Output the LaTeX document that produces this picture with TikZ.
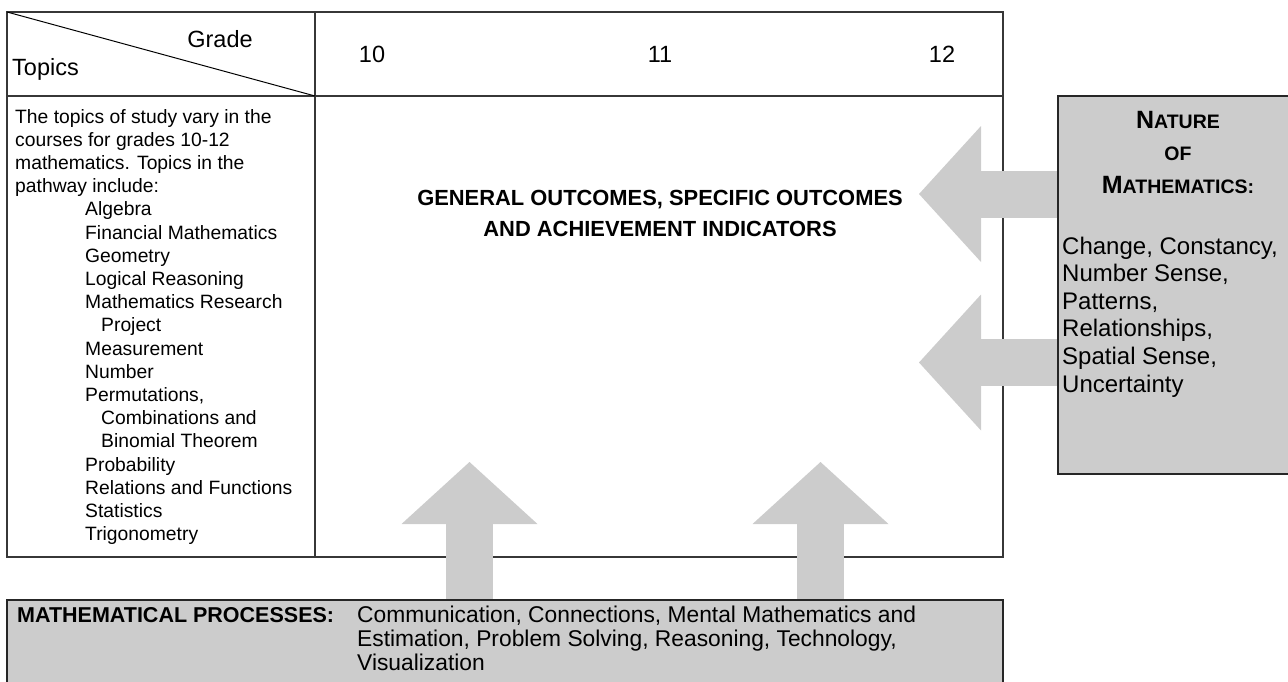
\documentclass[tikz,border=0pt]{standalone}
\usepackage{fontspec}
\setmainfont{Liberation Sans}
\usepackage{tikz}
\usepackage{xcolor}
\usetikzlibrary{arrows.meta}

\definecolor{boxgray}{RGB}{204,204,204}
\definecolor{rulegray}{RGB}{55,55,55}
\newcommand{\capsc}[2]{{\fontsize{25}{30}\selectfont #1}{\fontsize{19.5}{24}\selectfont #2}}

\tikzset{
  grid/.style={rulegray, line width=1.5pt},
  tablebox/.style={draw=rulegray, line width=1.5pt, inner sep=0pt, outer sep=0pt},
  graybox/.style={draw=black!85, fill=boxgray, line width=1.5pt, inner sep=0pt, outer sep=0pt},
  blockarrow/.style={boxgray, line width=47pt, shorten <=1pt,
    -{Triangle[length=62pt, width=136pt, line width=0pt]}},
  headtext/.style={inner sep=0pt, font=\fontsize{23.5}{28}\selectfont},
  lefttext/.style={anchor=base west, inner sep=0pt, font=\fontsize{19.3}{23.2}\selectfont},
  righttext/.style={anchor=base west, inner sep=0pt, font=\fontsize{24}{27.6}\selectfont},
  boldtext/.style={anchor=base, inner sep=0pt, font=\bfseries\fontsize{21.9}{30}\selectfont},
  proctext/.style={anchor=base west, inner sep=0pt, font=\fontsize{22.8}{24}\selectfont}
}

\begin{document}
\begin{tikzpicture}[x=1pt, y=-1pt]
  \clip (0,0) rectangle (1288,681);

  % table
  \node[tablebox, anchor=north west, minimum width=996pt, minimum height=545pt] (tbl) at (7,12) {};
  \coordinate (hdr) at (315,96);
  \draw[grid] (tbl.west |- hdr) -- (tbl.east |- hdr);
  \draw[grid] (tbl.north -| hdr) -- (tbl.south -| hdr);
  \draw[line width=1pt] (tbl.north west) -- (hdr);

  % boxes
  \node[graybox, anchor=north west, minimum width=260pt, minimum height=378pt] (nature) at (1058,96) {};
  \node[graybox, anchor=north west, minimum width=996pt, minimum height=100pt] (procs) at (7,600) {};

  % arrows into the table
  \coordinate (leftA) at (919,194);
  \coordinate (leftB) at (919,362.5);
  \coordinate (upA) at (469.5,462);
  \coordinate (upB) at (820.5,462);
  \draw[blockarrow] (nature.west |- leftA) -- (leftA);
  \draw[blockarrow] (nature.west |- leftB) -- (leftB);
  \draw[blockarrow] (procs.north -| upA) -- (upA);
  \draw[blockarrow] (procs.north -| upB) -- (upB);

  % header
  \node[headtext, anchor=base] (grade) at (220,47) {Grade};
  \node[headtext, anchor=base west] (topics) at (12,75) {Topics};
  \foreach \g/\x in {10/372, 11/660, 12/942}
    \node[headtext, anchor=base] (g\g) at (\x,62) {\g};

  % topics column
  \foreach \txt/\ind [count=\i from 0] in {
      The topics of study vary in the/0, courses for grades 10-12/0,
      mathematics. Topics in the/0, pathway include:/0,
      Algebra/70, Financial Mathematics/70, Geometry/70, Logical Reasoning/70,
      Mathematics Research/70, Project/86, Measurement/70, Number/70,
      {Permutations,}/70, Combinations and/86, Binomial Theorem/86,
      Probability/70, Relations and Functions/70, Statistics/70, Trigonometry/70}
    \node[lefttext] (topic\i) at (15+\ind, 123+23.2*\i) {\txt};

  % outcomes
  \node[boldtext] (outA) at (660,205) {GENERAL OUTCOMES, SPECIFIC OUTCOMES};
  \node[boldtext] (outB) at (660,236) {AND ACHIEVEMENT INDICATORS};

  % nature of mathematics
  \node[anchor=base, inner sep=0pt, font=\bfseries] (natA) at (1178,128) {\capsc{N}{ATURE}};
  \node[anchor=base, inner sep=0pt, font=\bfseries] (natB) at (1178,160) {\capsc{}{OF}};
  \node[anchor=base, inner sep=0pt, font=\bfseries] (natC) at (1178,193) {\capsc{M}{ATHEMATICS:}};
  \foreach \txt [count=\i from 0] in {{Change, Constancy,}, {Number Sense,}, {Patterns,},
      {Relationships,}, {Spatial Sense,}, Uncertainty}
    \node[righttext] (nat\i) at (1062, 254+27.6*\i) {\txt};

  % processes
  \node[anchor=base west, inner sep=0pt, font=\bfseries\fontsize{21.5}{24}\selectfont] (proclbl) at (17,622) {MATHEMATICAL PROCESSES:};
  \node[proctext] (procA) at (357,622) {Communication, Connections, Mental Mathematics and};
  \node[proctext] (procB) at (357,646) {Estimation, Problem Solving, Reasoning, Technology,};
  \node[proctext] (procC) at (357,670) {Visualization};
\end{tikzpicture}
\end{document}
